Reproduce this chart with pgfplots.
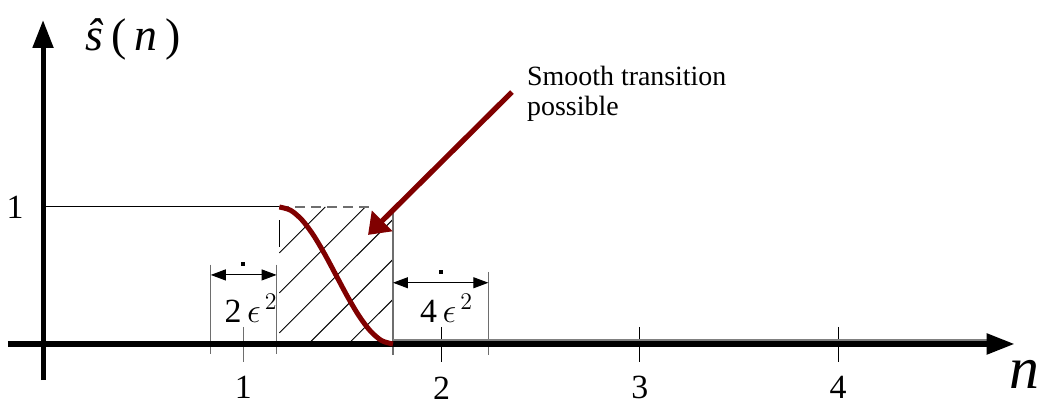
\documentclass[border=0pt]{standalone}
\usepackage{pgfplots}
\pgfplotsset{compat=1.18}
\usetikzlibrary{arrows.meta}
\usepackage{fontspec}
\setmainfont{Liberation Serif}
\definecolor{maroon}{RGB}{128,0,0}
\definecolor{dimgray}{RGB}{110,110,110}

\begin{document}
\begin{tikzpicture}
\begin{axis}[
    hide axis,
    clip=false,
    x=99.15bp, y=68.5bp,
    xmin=-0.227, xmax=5.003,
    ymin=-0.445, ymax=2.511,
]
\coordinate (bbsw) at (axis cs:-0.227,-0.445);
\coordinate (bbne) at (axis cs:5.003,2.511);

% hatch lines of the transition band
\addplot[black, line width=0.5bp] coordinates {(1.182,0.665) (1.4135,1.0)};
\addplot[black, line width=0.5bp] coordinates {(1.182,0.373) (1.615,1.0)};
\addplot[black, line width=0.5bp] coordinates {(1.182,0.081) (1.755,0.910)};
\addplot[black, line width=0.5bp] coordinates {(1.328,0) (1.755,0.618)};
\addplot[black, line width=0.5bp] coordinates {(1.5295,0) (1.755,0.326)};
% band edges
\addplot[dimgray, line width=0.6bp, dash pattern=on 5bp off 3bp] coordinates {(1.182,1) (1.66,1)};
\addplot[black, line width=0.5bp] coordinates {(1.185,0.905) (1.185,0.708)};
\addplot[dimgray, line width=0.6bp] coordinates {(1.755,0.96) (1.755,-0.08)};

% level 1 up to the band
\addplot[black, line width=0.5bp] coordinates {(-0.01,1) (1.182,1)};

% dimension lines
\addplot[dimgray, line width=0.6bp] coordinates {(0.836,0.58) (0.836,-0.073)};
\addplot[dimgray, line width=0.6bp] coordinates {(1.168,0.58) (1.168,-0.073)};
\addplot[dimgray, line width=0.6bp] coordinates {(2.236,0.526) (2.236,-0.08)};
\addplot[black, line width=0.5bp, {Triangle[length=7.5bp,width=5.5bp]}-{Triangle[length=7.5bp,width=5.5bp]}] coordinates {(0.836,0.504) (1.168,0.504)};
\addplot[black, line width=0.5bp, {Triangle[length=7.5bp,width=5.5bp]}-{Triangle[length=7.5bp,width=5.5bp]}] coordinates {(1.755,0.447) (2.236,0.447)};
\addplot[only marks, mark=square*, mark size=0.7bp, black] coordinates {(0.998,0.582) (1.995,0.528)};

% ticks
\addplot[dimgray, line width=0.6bp] coordinates {(1,0.124) (1,-0.131)};
\addplot[black, line width=0.5bp] coordinates {(2,0.124) (2,-0.131)};
\addplot[black, line width=0.5bp] coordinates {(3,0.124) (3,-0.131)};
\addplot[black, line width=0.5bp] coordinates {(4,0.124) (4,-0.131)};

% signal at zero after the band
\addplot[gray, line width=3.2bp] coordinates {(1.755,0.01) (4.75,0.01)};

% axes
\addplot[black, line width=2.7bp, -{Triangle[length=14bp,width=10bp]}] coordinates {(-0.187,0) (4.89,0)};
\addplot[black, line width=2.5bp, -{Triangle[length=14bp,width=10bp]}] coordinates {(-0.01,-0.263) (-0.01,2.365)};

% smooth transition
\addplot[maroon, line width=2.5bp, smooth] coordinates {
    (1.182,1) (1.2393,0.9755) (1.2966,0.9045) (1.3539,0.7939)
    (1.4112,0.6545) (1.4685,0.5) (1.5258,0.3455) (1.5831,0.2061)
    (1.6404,0.0955) (1.6977,0.0245) (1.755,0)
};
\addplot[maroon, line width=2.6bp, -{Triangle[length=10bp,width=14bp]}] coordinates {(2.355,1.839) (1.629,0.796)};

% labels
\node[font=\fontsize{17}{20}\selectfont] at (axis cs:1,-0.32) {1};
\node[font=\fontsize{17}{20}\selectfont] at (axis cs:2,-0.32) {2};
\node[font=\fontsize{17}{20}\selectfont] at (axis cs:3,-0.32) {3};
\node[font=\fontsize{17}{20}\selectfont] at (axis cs:4,-0.32) {4};
\node[font=\fontsize{17}{20}\selectfont] at (axis cs:-0.151,1) {1};
\node[font=\fontsize{17}{20}\selectfont, anchor=base] at (axis cs:1.039,0.16) {2$\,\epsilon^{\,2}$};
\node[font=\fontsize{17}{20}\selectfont, anchor=base] at (axis cs:2.025,0.16) {4$\,\epsilon^{\,2}$};
\node[font=\fontsize{23}{26}\selectfont] at (axis cs:0.444,2.22) {\textit{\^s}\,(\,\textit{n}\,)};
\node[font=\fontsize{30}{32}\selectfont\itshape] at (axis cs:4.94,-0.22) {n};
\node[font=\fontsize{14}{15}\selectfont, align=left, anchor=north west, inner sep=0pt] at (axis cs:2.43,2.03) {Smooth transition\\possible};
\end{axis}
\pgfresetboundingbox
\path (bbsw) rectangle (bbne);
\end{tikzpicture}
\end{document}
